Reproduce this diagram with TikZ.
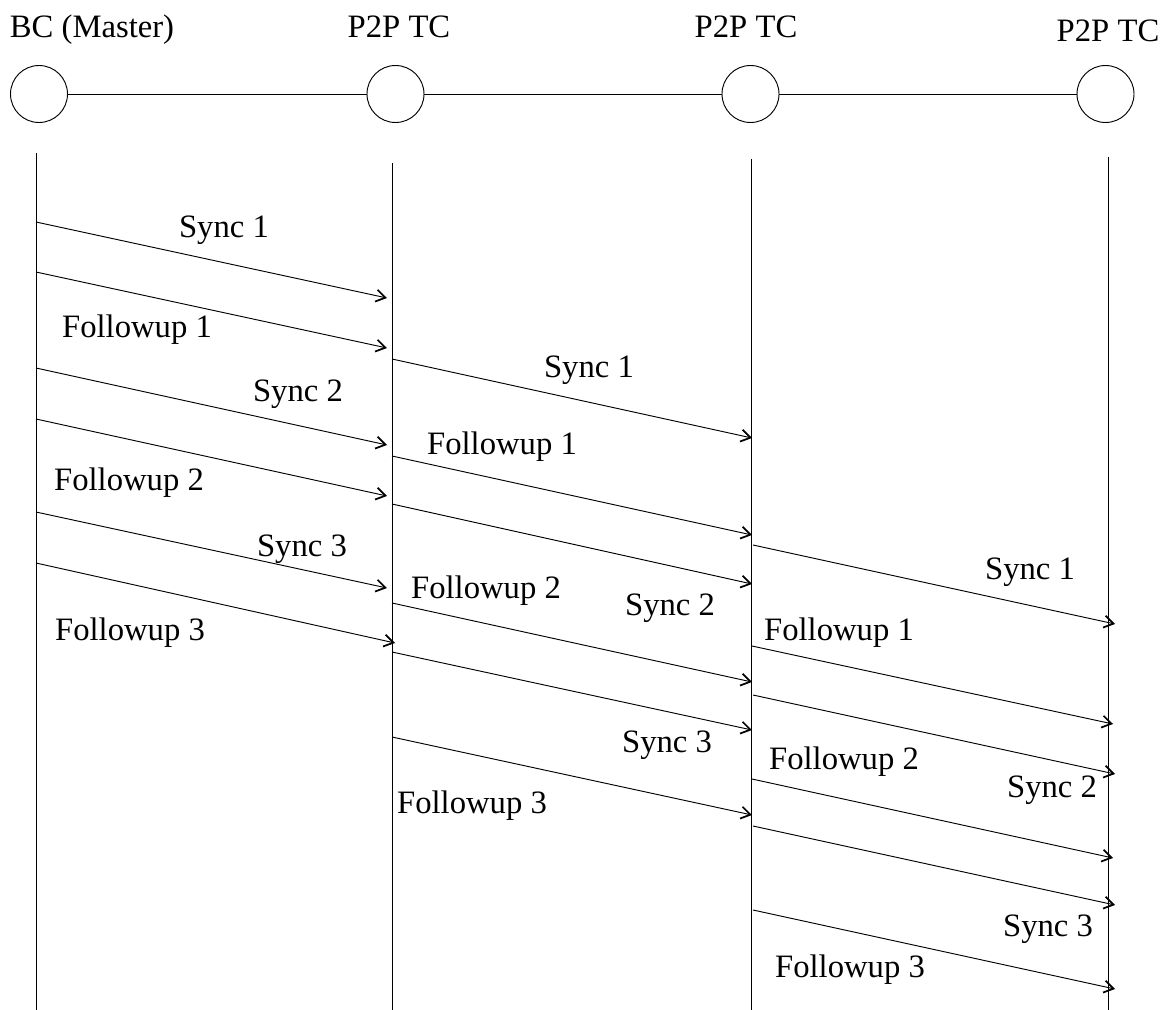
\documentclass[tikz,border=0pt]{standalone}
\usepackage{fontspec}
\setmainfont{Liberation Serif}
\usetikzlibrary{arrows.meta}

\begin{document}
\begin{tikzpicture}[x=0.75pt, y=-0.75pt,
  every node/.style={font=\fontsize{24.5pt}{28pt}\selectfont},
  station/.style={draw, circle, line width=0.7pt, minimum size=42.75pt, inner sep=0pt},
  link/.style={line width=0.7pt},
  lifeline/.style={line width=0.75pt},
  msg/.style={line width=0.7pt, -{Straight Barb[length=7pt, width=9pt, line width=1.3pt]}},
  lbl/.style={inner sep=0pt},
  head/.style={inner sep=0pt, anchor=base}]

  \useasboundingbox (0,0) rectangle (1165,1010);

  % stations and their names
  \node[station] (c1) at (39,94) {};
  \node[station] (c2) at (395.5,94) {};
  \node[station] (c3) at (750.5,94) {};
  \node[station] (c4) at (1105.5,94) {};
  \draw[link] (c1) -- (c2) -- (c3) -- (c4);

  \node[head] (h1) at (92,37) {BC (Master)};
  \node[head] (h2) at (399,37) {P2P TC};
  \node[head] (h3) at (746,37) {P2P TC};
  \node[head] (h4) at (1108,41) {P2P TC};

  % lifelines
  \coordinate (l1t) at (36,153);   \coordinate (l1b) at (36,1010);
  \coordinate (l2t) at (392,163);  \coordinate (l2b) at (392,1010);
  \coordinate (l3t) at (751,159);  \coordinate (l3b) at (751,1010);
  \coordinate (l4t) at (1108,157); \coordinate (l4b) at (1108,1010);
  \foreach \k in {1,...,4} \draw[lifeline] (l\k t) -- (l\k b);

  % messages: name / start x / start y / end x / end y
  \foreach \n/\xa/\ya/\xb/\yb in {
      a1/36/222/387/298, a2/36/272/387/348, a3/36/368/387/445,
      a4/36/419/387/496, a5/36/512/387/588, a6/36/563/395/643,
      b1/392/359/752/438, b2/392/456/752/535, b3/392/504/752/584,
      b4/392/603/752/682, b5/392/652/752/730, b6/392/737/752/815,
      d1/753/545/1115/624, d2/752/646/1113/724, d3/753/695/1115/774,
      d4/752/779/1113/858, d5/753/826/1115/905, d6/753/910/1115/989} {
    \coordinate (\n s) at (\xa,\ya);
    \coordinate (\n e) at (\xb,\yb);
    \draw[msg] (\n s) -- (\n e);
  }

  % message labels
  \node[lbl] (ta1) at (224,230) {Sync 1};
  \node[lbl] (ta2) at (137,330) {Followup 1};
  \node[lbl] (ta3) at (298,394) {Sync 2};
  \node[lbl] (ta4) at (129,483) {Followup 2};
  \node[lbl] (ta5) at (302,549) {Sync 3};
  \node[lbl] (ta6) at (130,633) {Followup 3};

  \node[lbl] (tb1) at (589,370) {Sync 1};
  \node[lbl] (tb2) at (502,447) {Followup 1};
  \node[lbl] (tb3) at (486,591) {Followup 2};
  \node[lbl] (tb4) at (670,608) {Sync 2};
  \node[lbl] (tb5) at (667,745) {Sync 3};
  \node[lbl] (tb6) at (472,806) {Followup 3};

  \node[lbl] (td1) at (1030,572) {Sync 1};
  \node[lbl] (td2) at (839,633) {Followup 1};
  \node[lbl] (td3) at (844,762) {Followup 2};
  \node[lbl] (td4) at (1052,790) {Sync 2};
  \node[lbl] (td5) at (1048,929) {Sync 3};
  \node[lbl] (td6) at (850,970) {Followup 3};
\end{tikzpicture}
\end{document}
